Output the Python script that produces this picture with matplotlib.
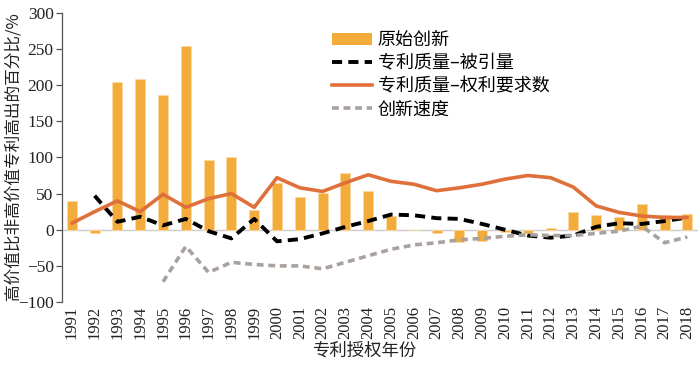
import matplotlib
matplotlib.use("Agg")
import matplotlib.pyplot as plt
from matplotlib.lines import Line2D
from matplotlib.patches import Patch

plt.rcParams['font.family'] = ['Liberation Serif', 'Noto Sans CJK SC', 'DejaVu Sans']

years = list(range(1991, 2019))
original = [40, -5, 204, 209, 187, 254, 97, 100, 27, 65, 45, 51, 79, 53, 19, 0,
            -4, -17, -16, -3, -5, 2, 24, 20, 17, 36, 20, 22]
claims = [9, 25, 40, 25, 49, 31, 43, 50, 31, 72, 58, 53, 65, 76, 67, 63,
          54, 58, 63, 70, 75, 72, 59, 33, 24, 19, 17, 17]
cite_years = list(range(1992, 2019))
citations = [47, 11, 18, 6, 15, -2, -12, 15, -16, -13, -5, 4, 12, 21, 20, 16,
             15, 8, 0, -8, -11, -8, 4, 9, 8, 12, 17]
speed_years = list(range(1995, 2019))
speed = [-72, -23, -59, -45, -48, -50, -50, -54, -45, -36, -27, -21, -18, -14,
         -12, -9, -7, -8, -8, -5, -2, 5, -18, -10]

labels = ['原始创新', '专利质量–被引量', '专利质量–权利要求数', '创新速度']
bar_c = '#F3AC3B'
orange_c = '#E0703A'
gray_c = '#A8A19E'

fig = plt.figure(figsize=(7, 3.67), dpi=100)
ax = fig.add_axes([0.0886, 0.177, 0.908, 0.788])

ax.bar(years, original, width=0.44, color=bar_c, edgecolor='#FBD9A0', linewidth=0.6, zorder=2)
ax.axhline(0, color='#CFCACA', lw=1.0, zorder=1)
ax.plot(years, claims, color=orange_c, lw=2.6, solid_capstyle='round', zorder=4)
ax.plot(cite_years, citations, color='black', lw=2.8, dashes=(2.6, 1.6), zorder=3)
ax.plot(speed_years, speed, color=gray_c, lw=2.6, dashes=(1.9, 1.3), zorder=3)

ax.set_xlim(1990.57, 2018.45)
ax.set_ylim(-100, 300)
ax.set_yticks([-100, -50, 0, 50, 100, 150, 200, 250, 300])
ax.set_yticklabels(['\u2212100', '\u221250', '0', '50', '100', '150', '200', '250', '300'])
ax.set_xticks(years)
ax.set_xticklabels([str(y) for y in years], rotation=90)
for s in ['top', 'right', 'bottom']:
    ax.spines[s].set_visible(False)
ax.spines['left'].set_color('#555555')
ax.spines['left'].set_linewidth(0.9)
ax.tick_params(axis='y', direction='out', length=4, width=0.9, color='#555555',
               labelsize=12.5, pad=2, labelcolor='#222222')
ax.tick_params(axis='x', length=0, labelsize=12, pad=3, labelcolor='#222222')

fig.text(0.52, 0.02, '专利授权年份', ha='center', va='bottom', fontsize=12.5,
         family=['Noto Sans CJK SC'], color='#222222')
fig.text(0.018, 0.575, '高价值比非高价值专利高出的百分比/%', rotation=90, ha='center',
         va='center', fontsize=12, family=['Noto Sans CJK SC', 'DejaVu Sans'], color='#222222')

handles = [Patch(facecolor=bar_c, edgecolor='none'),
           Line2D([], [], color='black', lw=2.8, dashes=(2.6, 1.6)),
           Line2D([], [], color=orange_c, lw=2.6),
           Line2D([], [], color=gray_c, lw=2.6, dashes=(1.9, 1.3))]
leg = fig.legend(handles, labels, loc='upper left', bbox_to_anchor=(0.474, 0.915),
                 frameon=False, handlelength=2.2, handleheight=0.6,
                 handletextpad=0.35, labelspacing=0.28, borderpad=0, borderaxespad=0,
                 prop={'family': ['Noto Sans CJK SC', 'DejaVu Sans'], 'size': 13})

fig.savefig('out.png', dpi=100)
